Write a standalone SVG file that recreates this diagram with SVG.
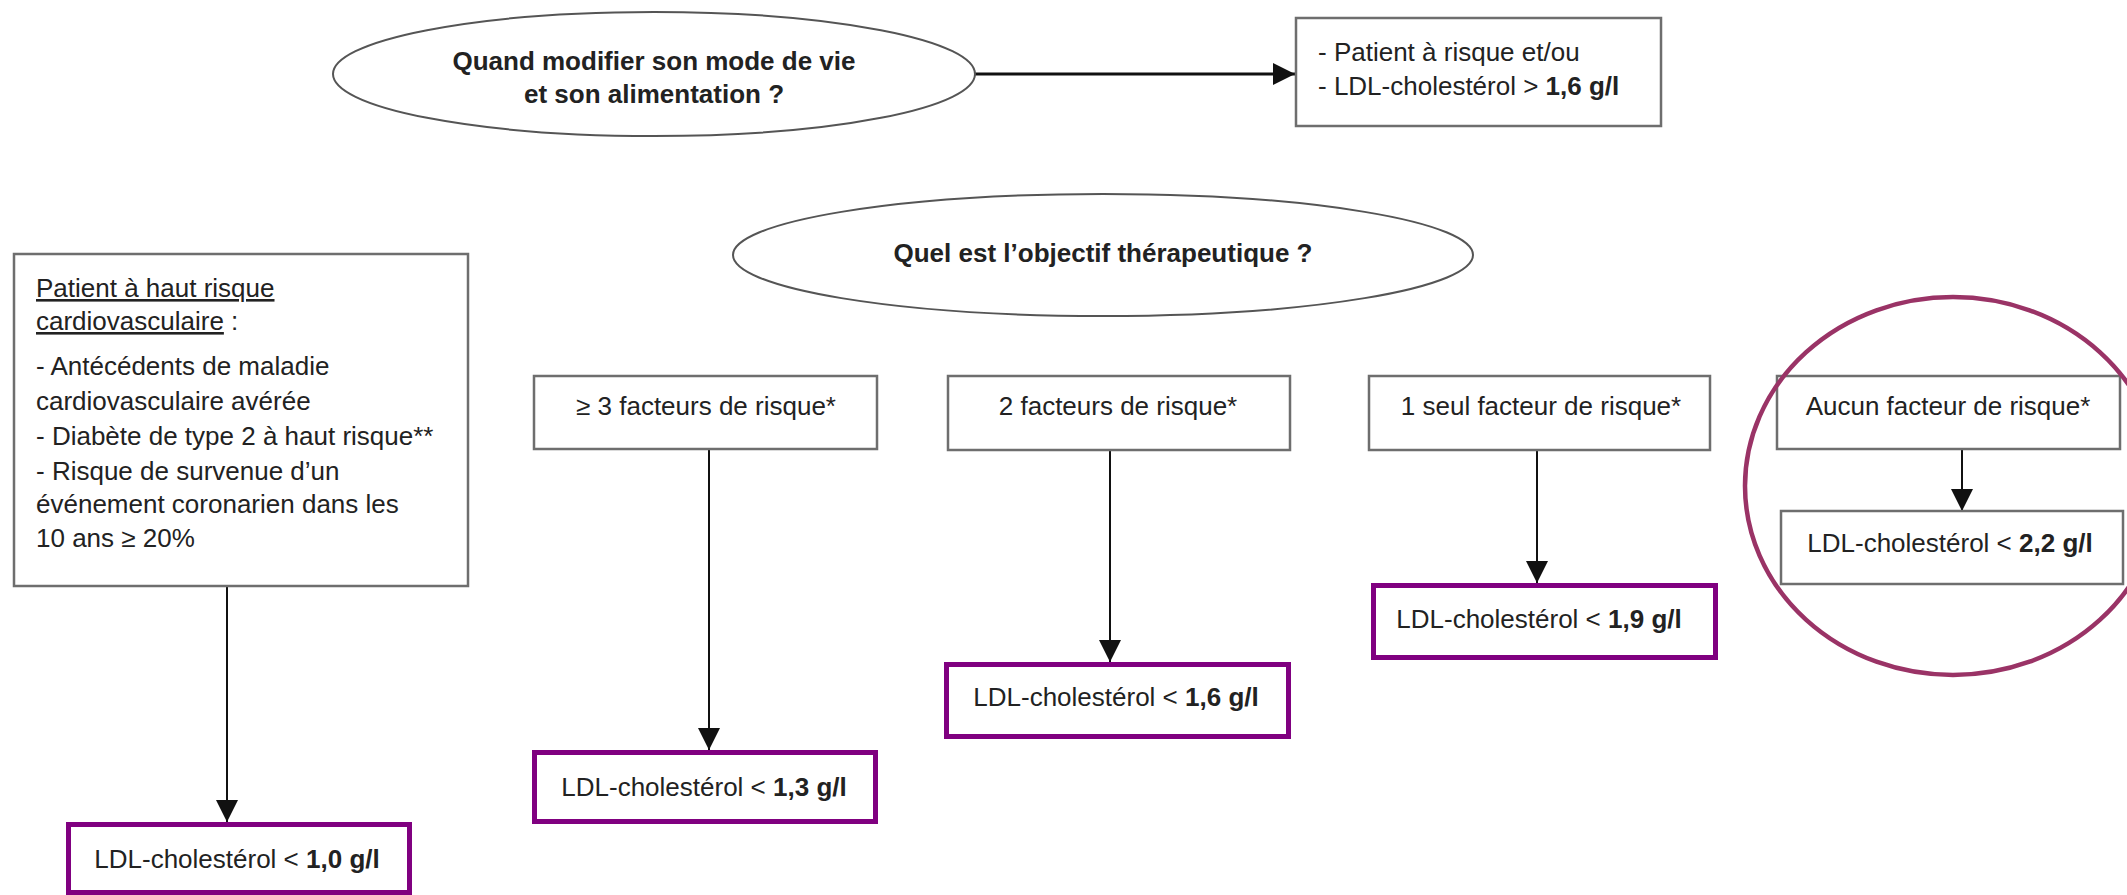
<svg xmlns="http://www.w3.org/2000/svg" width="2127" height="895" viewBox="0 0 2127 895">
<style>
text{font-family:"Liberation Sans",Arial,sans-serif;font-size:26px;fill:#222}
.b{font-weight:bold}
.c{text-anchor:middle}
.box{fill:#fff;stroke:#6e6e6e;stroke-width:2.5}
.pbox{fill:#fff;stroke:#800080;stroke-width:5}
.ell{fill:#fff;stroke:#555;stroke-width:2}
.con{stroke:#111;stroke-width:2;fill:none;marker-end:url(#ah)}
</style>
<defs>
<marker id="ah" markerUnits="userSpaceOnUse" markerWidth="22" markerHeight="22" refX="22" refY="11" orient="auto">
<path d="M0,0 L22,11 L0,22 z" fill="#111"/>
</marker>
</defs>
<rect width="2127" height="895" fill="#fff"/>

<g id="connectors">
<line class="con" x1="975" y1="74" x2="1295" y2="74" style="stroke-width:3"/>
<line class="con" x1="227" y1="586" x2="227" y2="822"/>
<line class="con" x1="709" y1="449" x2="709" y2="750"/>
<line class="con" x1="1110" y1="450" x2="1110" y2="662"/>
<line class="con" x1="1537" y1="450" x2="1537" y2="583"/>
<line class="con" x1="1962" y1="450" x2="1962" y2="511"/>
</g>

<g id="q-mode-vie">
<ellipse class="ell" cx="654" cy="74" rx="321" ry="62"/>
<text class="b c" x="654" y="70">Quand modifier son mode de vie</text>
<text class="b c" x="654" y="103">et son alimentation ?</text>
</g>

<g id="patient-risque">
<rect class="box" x="1296" y="18" width="365" height="108"/>
<text x="1318" y="61">- Patient à risque et/ou</text>
<text x="1318" y="95">- LDL-cholestérol &gt; <tspan class="b">1,6 g/l</tspan></text>
</g>

<g id="q-objectif">
<ellipse class="ell" cx="1103" cy="255" rx="370" ry="61"/>
<text class="b c" x="1103" y="262">Quel est l’objectif thérapeutique ?</text>
</g>

<g id="haut-risque">
<rect class="box" x="14" y="254" width="454" height="332"/>
<text x="36" y="297" text-decoration="underline">Patient à haut risque</text>
<text x="36" y="330"><tspan text-decoration="underline">cardiovasculaire</tspan> :</text>
<text x="36" y="375">- Antécédents de maladie</text>
<text x="36" y="410">cardiovasculaire avérée</text>
<text x="36" y="445">- Diabète de type 2 à haut risque**</text>
<text x="36" y="480">- Risque de survenue d’un</text>
<text x="36" y="513">événement coronarien dans les</text>
<text x="36" y="547">10 ans ≥ 20%</text>
</g>

<g id="ldl-10">
<rect class="pbox" x="68.5" y="824.5" width="341" height="68"/>
<text class="c" x="237" y="868">LDL-cholestérol &lt; <tspan class="b">1,0 g/l</tspan></text>
</g>

<g id="f3">
<rect class="box" x="534" y="376" width="343" height="73"/>
<text class="c" x="706" y="415">≥ 3 facteurs de risque*</text>
</g>
<g id="ldl-13">
<rect class="pbox" x="534.5" y="752.5" width="341" height="69"/>
<text class="c" x="704" y="796">LDL-cholestérol &lt; <tspan class="b">1,3 g/l</tspan></text>
</g>

<g id="f2">
<rect class="box" x="948" y="376" width="342" height="74"/>
<text class="c" x="1118" y="415">2 facteurs de risque*</text>
</g>
<g id="ldl-16">
<rect class="pbox" x="946.5" y="664.5" width="342" height="72"/>
<text class="c" x="1116" y="706">LDL-cholestérol &lt; <tspan class="b">1,6 g/l</tspan></text>
</g>

<g id="f1">
<rect class="box" x="1369" y="376" width="341" height="74"/>
<text class="c" x="1541" y="415">1 seul facteur de risque*</text>
</g>
<g id="ldl-19">
<rect class="pbox" x="1373.5" y="585.5" width="342" height="72"/>
<text class="c" x="1539" y="628">LDL-cholestérol &lt; <tspan class="b">1,9 g/l</tspan></text>
</g>

<g id="f0">
<rect class="box" x="1777" y="376" width="343" height="73"/>
<text class="c" x="1948" y="415">Aucun facteur de risque*</text>
</g>
<g id="ldl-22">
<rect class="box" x="1781" y="511" width="342" height="73"/>
<text class="c" x="1950" y="552">LDL-cholestérol &lt; <tspan class="b">2,2 g/l</tspan></text>
</g>

<g id="highlight">
<ellipse cx="1953" cy="486" rx="208" ry="189" fill="none" stroke="#9a3366" stroke-width="4.5"/>
</g>
</svg>
